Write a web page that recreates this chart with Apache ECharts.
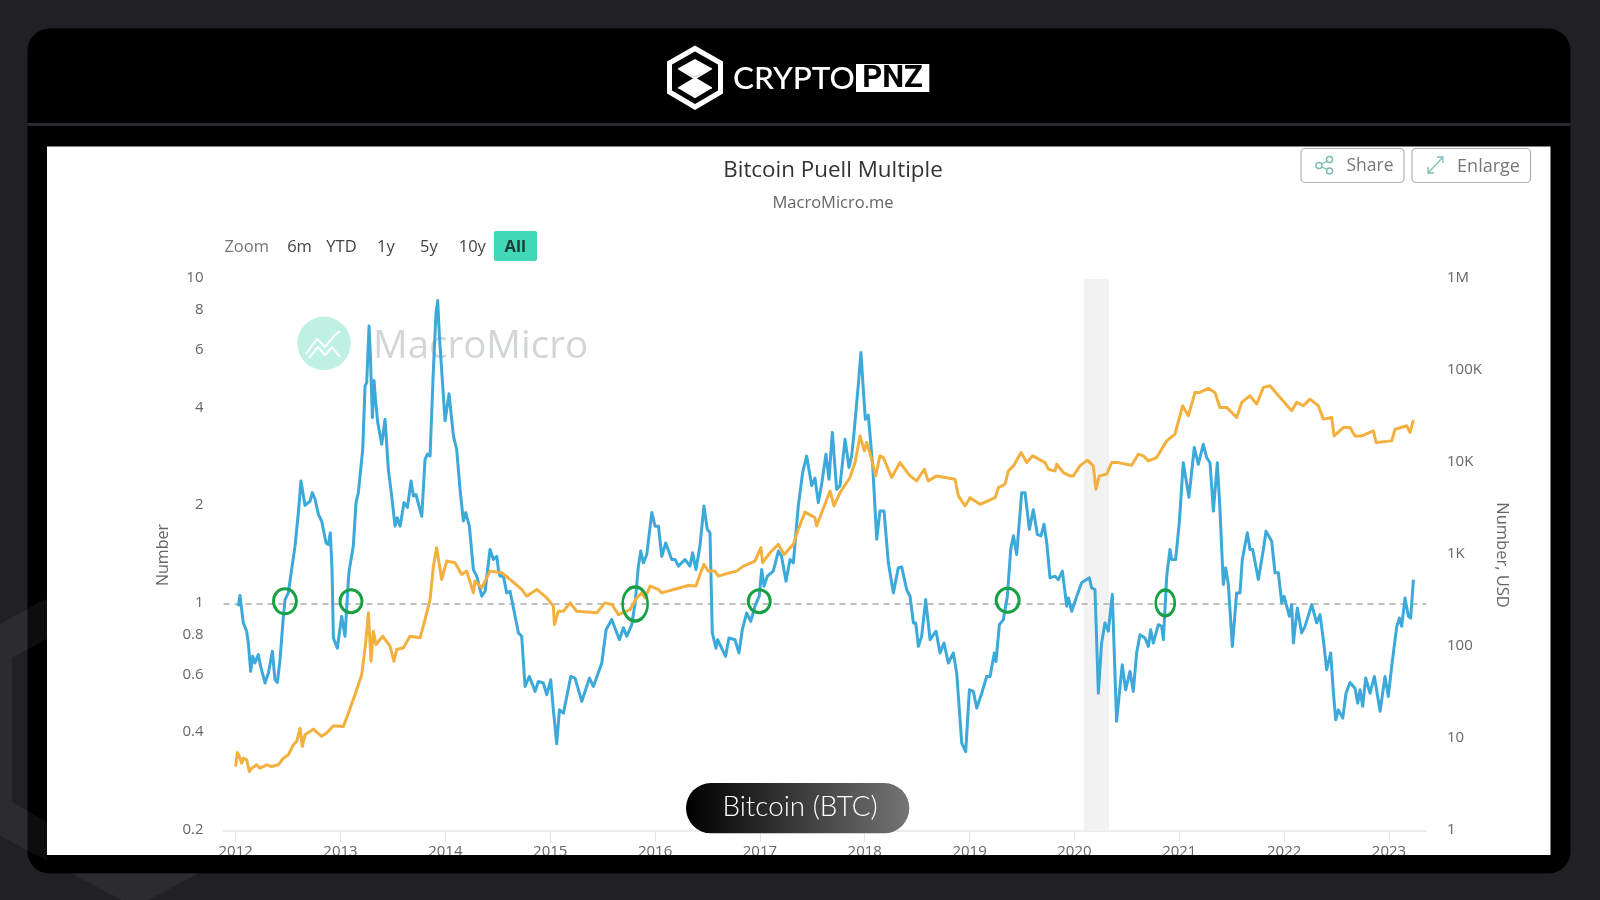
<!DOCTYPE html>
<html><head><meta charset="utf-8">
<style>html,body{margin:0;padding:0;background:#202025}#c{width:1600px;height:900px}</style>
<script src="https://cdn.jsdelivr.net/npm/echarts@6/dist/echarts.min.js"></script>
</head><body><div id="c"></div>
<script>
const puellYears=[2012.025,2012.041,2012.057,2012.073,2012.105,2012.121,2012.143,2012.162,2012.184,2012.216,2012.238,2012.28,2012.312,2012.35,2012.375,2012.398,2012.423,2012.455,2012.471,2012.502,2012.534,2012.566,2012.598,2012.623,2012.661,2012.709,2012.731,2012.757,2012.789,2012.82,2012.862,2012.884,2012.903,2012.919,2012.932,2012.97,2013.011,2013.043,2013.075,2013.084,2013.122,2013.148,2013.17,2013.212,2013.234,2013.25,2013.272,2013.285,2013.304,2013.32,2013.336,2013.355,2013.371,2013.393,2013.425,2013.456,2013.488,2013.52,2013.542,2013.568,2013.606,2013.638,2013.673,2013.695,2013.72,2013.775,2013.806,2013.829,2013.854,2013.886,2013.911,2013.927,2013.943,2013.997,2014.035,2014.077,2014.108,2014.14,2014.172,2014.194,2014.229,2014.267,2014.299,2014.347,2014.379,2014.426,2014.442,2014.458,2014.49,2014.506,2014.522,2014.554,2014.585,2014.617,2014.665,2014.697,2014.728,2014.76,2014.801,2014.856,2014.887,2014.935,2014.967,2015.005,2015.03,2015.062,2015.088,2015.126,2015.158,2015.196,2015.237,2015.301,2015.374,2015.412,2015.492,2015.533,2015.587,2015.66,2015.698,2015.73,2015.778,2015.81,2015.841,2015.864,2015.889,2015.921,2015.969,2016.0,2016.032,2016.064,2016.102,2016.159,2016.191,2016.223,2016.285,2016.333,2016.358,2016.39,2016.428,2016.466,2016.498,2016.524,2016.546,2016.581,2016.597,2016.635,2016.673,2016.705,2016.762,2016.8,2016.832,2016.874,2016.912,2016.953,2016.994,2017.017,2017.039,2017.071,2017.128,2017.176,2017.207,2017.249,2017.287,2017.319,2017.366,2017.408,2017.446,2017.494,2017.525,2017.557,2017.589,2017.63,2017.659,2017.691,2017.732,2017.764,2017.812,2017.85,2017.875,2017.898,2017.939,2017.964,2017.986,2018.006,2018.034,2018.076,2018.114,2018.145,2018.184,2018.225,2018.273,2018.32,2018.352,2018.4,2018.432,2018.464,2018.486,2018.511,2018.543,2018.581,2018.623,2018.68,2018.718,2018.756,2018.797,2018.845,2018.877,2018.925,2018.963,2018.998,2019.036,2019.068,2019.116,2019.163,2019.195,2019.236,2019.252,2019.284,2019.322,2019.36,2019.392,2019.418,2019.449,2019.497,2019.529,2019.57,2019.608,2019.646,2019.681,2019.71,2019.736,2019.767,2019.815,2019.847,2019.885,2019.926,2019.942,2019.974,2020.022,2020.069,2020.116,2020.142,2020.164,2020.196,2020.228,2020.259,2020.291,2020.323,2020.361,2020.402,2020.456,2020.488,2020.53,2020.561,2020.593,2020.625,2020.673,2020.705,2020.727,2020.752,2020.8,2020.832,2020.848,2020.88,2020.911,2020.927,2020.965,2021.0,2021.038,2021.092,2021.143,2021.181,2021.229,2021.261,2021.293,2021.325,2021.363,2021.388,2021.42,2021.442,2021.468,2021.506,2021.547,2021.579,2021.601,2021.649,2021.674,2021.7,2021.754,2021.802,2021.827,2021.881,2021.913,2021.945,2021.977,2021.999,2022.05,2022.072,2022.088,2022.126,2022.167,2022.199,2022.263,2022.31,2022.342,2022.374,2022.406,2022.444,2022.47,2022.492,2022.517,2022.559,2022.59,2022.628,2022.676,2022.702,2022.724,2022.749,2022.778,2022.819,2022.861,2022.915,2022.962,2022.994,2023.026,2023.074,2023.099,2023.121,2023.153,2023.185,2023.207,2023.233];
const puellValues=[0.984,1.061,0.961,0.874,0.824,0.758,0.62,0.69,0.658,0.698,0.643,0.571,0.613,0.715,0.584,0.573,0.674,0.916,1.031,1.081,1.276,1.506,1.908,2.39,2.01,2.07,2.2,2.1,1.886,1.8,1.54,1.524,1.656,1.276,0.785,0.731,0.916,0.795,1.188,1.276,1.506,2.05,2.2,2.99,4.69,4.8,7.17,5.8,3.74,4.87,4.17,3.62,3.66,3.1,3.7,2.6,2.15,1.735,1.84,1.735,2.05,1.98,2.39,2.15,2.17,1.86,2.78,2.89,2.85,5.28,7.88,8.58,6.69,3.66,4.43,3.29,2.99,2.25,1.8,1.91,1.735,1.276,1.217,1.056,1.094,1.47,1.47,1.37,1.4,1.276,1.217,1.217,1.081,1.094,0.916,0.814,0.795,0.557,0.598,0.538,0.577,0.571,0.525,0.584,0.472,0.371,0.472,0.461,0.519,0.598,0.591,0.501,0.591,0.557,0.658,0.833,0.895,0.776,0.844,0.795,0.863,1.007,1.307,1.454,1.338,1.419,1.91,1.735,1.735,1.4,1.54,1.37,1.37,1.307,1.37,1.307,1.436,1.276,1.506,2.0,1.696,1.656,0.814,0.731,0.776,0.731,0.69,0.785,0.776,0.706,0.833,0.938,0.884,0.984,1.056,1.276,1.134,1.217,1.261,1.454,1.4,1.175,1.37,1.338,2.0,2.54,2.85,2.31,2.44,2.05,2.34,2.89,2.42,3.37,2.25,2.31,3.21,2.63,2.85,3.37,4.75,5.94,4.58,3.7,3.81,2.66,1.58,1.93,1.93,1.338,1.081,1.291,1.3,1.107,1.056,0.874,0.874,0.74,0.795,1.031,0.776,0.824,0.706,0.758,0.658,0.706,0.613,0.373,0.351,0.544,0.538,0.478,0.531,0.598,0.598,0.706,0.665,0.863,0.895,1.056,1.47,1.62,1.42,2.2,2.2,1.696,1.95,1.637,1.62,1.76,1.54,1.203,1.217,1.188,1.261,0.984,1.043,0.949,1.056,1.161,1.188,1.203,1.12,1.107,0.531,0.758,0.874,0.824,1.069,0.435,0.65,0.544,0.62,0.538,0.706,0.804,0.785,0.74,0.833,0.758,0.863,0.853,0.776,1.217,1.47,1.37,1.37,1.78,2.72,2.13,3.03,2.69,3.1,2.82,2.72,1.93,2.72,1.95,1.147,1.291,1.147,0.74,1.081,1.081,1.37,1.656,1.47,1.47,1.188,1.47,1.675,1.56,1.246,1.246,1.007,1.056,0.916,0.995,0.758,0.972,0.814,0.853,0.995,0.874,0.927,0.776,0.627,0.706,0.531,0.44,0.472,0.445,0.531,0.573,0.55,0.495,0.544,0.484,0.591,0.531,0.598,0.467,0.598,0.519,0.643,0.853,0.905,0.853,1.043,0.916,0.905,1.188];
const priceYears=[2012.0,2012.016,2012.035,2012.057,2012.073,2012.105,2012.13,2012.153,2012.2,2012.232,2012.296,2012.343,2012.407,2012.455,2012.502,2012.55,2012.582,2012.614,2012.636,2012.661,2012.741,2012.82,2012.868,2012.932,2013.027,2013.075,2013.138,2013.202,2013.24,2013.266,2013.291,2013.313,2013.339,2013.402,2013.472,2013.51,2013.536,2013.6,2013.663,2013.759,2013.806,2013.854,2013.886,2013.917,2013.965,2014.013,2014.092,2014.156,2014.204,2014.267,2014.283,2014.347,2014.426,2014.538,2014.617,2014.728,2014.776,2014.872,2014.967,2015.03,2015.04,2015.078,2015.126,2015.19,2015.253,2015.444,2015.523,2015.587,2015.651,2015.762,2015.826,2015.873,2015.905,2015.953,2016.032,2016.064,2016.175,2016.318,2016.39,2016.428,2016.466,2016.508,2016.571,2016.603,2016.715,2016.778,2016.842,2016.953,2017.01,2017.026,2017.096,2017.176,2017.23,2017.319,2017.366,2017.43,2017.525,2017.541,2017.589,2017.669,2017.707,2017.764,2017.859,2017.907,2017.955,2017.996,2018.018,2018.066,2018.104,2018.145,2018.177,2018.257,2018.336,2018.432,2018.495,2018.568,2018.606,2018.686,2018.861,2018.893,2018.957,2019.004,2019.099,2019.243,2019.275,2019.338,2019.37,2019.418,2019.491,2019.545,2019.602,2019.72,2019.751,2019.815,2019.831,2019.895,2019.958,2019.989,2020.053,2020.123,2020.18,2020.205,2020.237,2020.307,2020.355,2020.418,2020.546,2020.609,2020.657,2020.705,2020.784,2020.88,2020.959,2021.032,2021.086,2021.15,2021.197,2021.277,2021.34,2021.388,2021.452,2021.5,2021.547,2021.595,2021.674,2021.738,2021.802,2021.865,2021.961,2022.072,2022.12,2022.183,2022.247,2022.326,2022.374,2022.454,2022.476,2022.565,2022.628,2022.676,2022.74,2022.851,2022.877,2023.026,2023.058,2023.169,2023.201,2023.233];
const priceValues=[5.02,7.13,6.45,5.46,6.19,5.93,4.43,4.82,5.24,4.82,5.24,5.02,5.24,6.19,6.73,8.65,9.4,13.1,8.3,11.1,12.8,10.7,11.6,13.9,13.7,19.1,30.3,50,111,235,70,148,106,131,102,70,94,98,131,126,199,328,757,1200,542,859,824,615,668,388,520,440,668,641,542,422,357,422,342,278,175,245,245,302,245,235,302,290,225,255,342,388,342,459,422,388,422,466,459,615,790,668,668,589,641,668,757,859,1200,824,1058,1304,1015,1304,1900,2935,2545,2065,2885,4970,3410,4765,6950,10100,19700,13550,16700,11000,7240,11960,11470,6950,10100,7240,6390,8560,6390,7240,6660,4385,3410,4200,3560,4200,5400,5875,8200,9300,13000,10100,11960,10100,8560,8200,9700,7870,7240,7240,9300,10730,9300,5180,7240,7550,10100,10100,9460,12470,11960,10550,11470,17400,20600,41900,32600,58500,58500,64700,58500,40200,40200,35500,31300,45600,53800,43700,66400,69200,51600,37000,45600,41900,49500,41900,30000,31300,19700,24300,24300,19700,19700,22400,16700,17400,23300,25400,21500,29200];
const circleYears=[2012.47,2013.10,2015.81,2016.994,2019.363,2020.866];
const circleValues=[1.019,1.019,1.0,1.019,1.026,1.007];
const circleSizes=[[23,25],[22,23],[25,34],[22,23],[23,24],[19,26]];
const yearTicks=[2012,2013,2014,2015,2016,2017,2018,2019,2020,2021,2022,2023];
const leftTicks=[0.2,0.4,0.6,0.8,1,2,4,6,8,10];
const rightLabels={1:'1',10:'10',100:'100',1000:'1K',10000:'10K',100000:'100K',1000000:'1M'};
const rangeButtons=[['Zoom',246.7,'#777'],['6m',299.5,'#444'],['YTD',341.5,'#444'],['1y',385.8,'#444'],['5y',428.8,'#444'],['10y',472.3,'#444']];
const recessionBand=[2020.09,2020.33];

const zip=(a,b)=>a.map((v,i)=>[v,b[i]]);
const font='"Open Sans"';
const hexRing=[[135,550],[300,640],[300,820],[135,907],[-30,820],[-30,640],[135,550],[135,590],[12,658],[12,802],[135,872],[258,802],[258,658],[135,590]];
const txt=(x,y,t,size,fill,extra)=>Object.assign({type:'text',x,y,style:Object.assign({text:t,font:`${(extra&&extra.w)||400} ${size}px ${font}`,fill,align:'center',verticalAlign:'middle'},extra&&extra.s)},extra&&extra.e);

const graphics=[
 {type:'rect',z:-20,shape:{x:27.5,y:28.5,width:1543,height:845,r:22},style:{fill:'#000'}},
 {type:'polygon',z:-19,shape:{points:hexRing},style:{fill:'rgba(255,255,255,0.05)'}},
 {type:'rect',z:-18,shape:{x:27.5,y:123,width:1543,height:3},style:{fill:'#2a2a2e'}},
 {type:'rect',z:-15,shape:{x:47,y:146.5,width:1503.5,height:708.5},style:{fill:'#fff'}},
 {type:'polygon',z:-14,shape:{points:[[695,48.5],[720.5,63],[720.5,92],[695,107],[669.5,92],[669.5,63]]},style:{fill:'none',stroke:'#fff',lineWidth:5}},
 {type:'polygon',z:-14,shape:{points:[[678.3,68.3],[695,59],[711.7,68.3],[695,77]]},style:{fill:'#fff'}},
 {type:'polygon',z:-14,shape:{points:[[678.3,88.3],[695,78.5],[711.7,88.3],[695,98.3]]},style:{fill:'#fff'}},
 {type:'polyline',z:-14,shape:{points:[[678.3,68.3],[711.7,88.3]]},style:{stroke:'#fff',lineWidth:2,fill:'none'}},
 {type:'polyline',z:-14,shape:{points:[[711.7,68.3],[678.3,88.3]]},style:{stroke:'#fff',lineWidth:2,fill:'none'}},
 {type:'text',z:-14,x:733,y:78.5,style:{text:'CRYPTO',font:'500 31.5px Lato',fill:'#fff',align:'left',verticalAlign:'middle'}},
 {type:'rect',z:-14,shape:{x:856,y:64,width:73.3,height:28},style:{fill:'#fff'}},
 {type:'text',z:-14,x:892.6,y:79,style:{text:'PNZ',font:'700 31px Roboto',fill:'#000',align:'center',verticalAlign:'middle'}},
 txt(833,170.5,'Bitcoin Puell Multiple',22.4,'#333',{e:{z:-13}}),
 txt(833,203,'MacroMicro.me',16.5,'#666',{e:{z:-13}}),
 {type:'rect',z:-13,shape:{x:1301,y:148.5,width:103,height:34,r:4},style:{fill:'#fff',stroke:'#aeb2b5',lineWidth:1.2}},
 {type:'rect',z:-13,shape:{x:1412,y:148.5,width:118.5,height:34,r:4},style:{fill:'#fff',stroke:'#aeb2b5',lineWidth:1.2}},
 txt(1370,166.5,'Share',17.5,'#777',{e:{z:-12}}),
 txt(1488.5,166.5,'Enlarge',18,'#777',{e:{z:-12}}),
 {type:'circle',z:-12,shape:{cx:1319,cy:165.5,r:3},style:{fill:'none',stroke:'#7fbcb5',lineWidth:1.5}},
 {type:'circle',z:-12,shape:{cx:1329.5,cy:159.5,r:3},style:{fill:'none',stroke:'#7fbcb5',lineWidth:1.5}},
 {type:'circle',z:-12,shape:{cx:1329.5,cy:171,r:3},style:{fill:'none',stroke:'#7fbcb5',lineWidth:1.5}},
 {type:'polyline',z:-12,shape:{points:[[1327,161],[1322,164]]},style:{stroke:'#7fbcb5',lineWidth:1.3,fill:'none'}},
 {type:'polyline',z:-12,shape:{points:[[1327,169.5],[1322,167]]},style:{stroke:'#7fbcb5',lineWidth:1.3,fill:'none'}},
 {type:'polyline',z:-12,shape:{points:[[1428,173],[1443,157]]},style:{stroke:'#7fbcb5',lineWidth:1.3,fill:'none'}},
 {type:'polyline',z:-12,shape:{points:[[1437,157],[1443,157],[1443,163]]},style:{stroke:'#7fbcb5',lineWidth:1.3,fill:'none'}},
 {type:'polyline',z:-12,shape:{points:[[1428,167],[1428,173],[1434,173]]},style:{stroke:'#7fbcb5',lineWidth:1.3,fill:'none'}},
 ...rangeButtons.map(b=>txt(b[1],247.5,b[0],16.5,b[2],{e:{z:-13}})),
 {type:'rect',z:-13,shape:{x:494,y:231,width:43,height:30,r:2},style:{fill:'#40d8b6'}},
 txt(515.3,247,'All',16.5,'#1f3a35',{w:700,e:{z:-12}}),
 {type:'circle',z:-13,shape:{cx:324,cy:343.3,r:26.7},style:{fill:'#bff0e4'}},
 {type:'polyline',z:-12,shape:{points:[[306,354],[317,339],[325,347],[335,335],[340,331]]},style:{stroke:'#fff',lineWidth:2,fill:'none'}},
 {type:'polyline',z:-12,shape:{points:[[309,358],[318,347],[325,355],[332,347],[340,357]]},style:{stroke:'#fff',lineWidth:2,fill:'none'}},
 {type:'text',z:-13,x:373,y:347,style:{text:'MacroMicro',font:`400 38.5px ${font}`,fill:'#d3d6d8',align:'left',verticalAlign:'middle'}},
 {type:'rect',z:50,shape:{x:47,y:855,width:1503.5,height:18},style:{fill:'#000'}},
 {type:'rect',z:60,shape:{x:686,y:783,width:223.3,height:50.3,r:25},style:{fill:{type:'linear',x:0,y:0,x2:1,y2:0,colorStops:[{offset:0,color:'#000'},{offset:1,color:'#757575'}]}}},
 {type:'text',z:61,x:800,y:807.5,style:{text:'Bitcoin (BTC)',font:'300 27.8px Lato',fill:'#fff',align:'center',verticalAlign:'middle'}}
];

const chart=echarts.init(document.getElementById('c'),null,{renderer:'canvas'});
chart.setOption({
 animation:false,
 backgroundColor:'#202025',
 textStyle:{fontFamily:font},
 graphic:{elements:graphics},
 grid:{left:223.5,right:174,top:279,bottom:69},
 xAxis:{type:'value',min:2011.884,max:2023.353,splitLine:{show:false},
  axisLine:{lineStyle:{color:'#e3e6ea',width:1.5}},
  axisTick:{show:true,customValues:yearTicks,length:11,lineStyle:{color:'#e3e6ea'}},
  axisLabel:{customValues:yearTicks,formatter:v=>String(Math.round(v)),color:'#666',fontSize:15,margin:13,fontFamily:font,hideOverlap:false,showMinLabel:true,showMaxLabel:true}},
 yAxis:[
  {type:'log',logBase:10,min:0.2,max:10,position:'left',splitLine:{show:false},axisLine:{show:false},axisTick:{show:false},
   axisLabel:{customValues:leftTicks,color:'#666',fontSize:15,margin:20,fontFamily:font,verticalAlign:'bottom',lineHeight:2,formatter:v=>String(v),showMinLabel:true,showMaxLabel:true},
   name:'Number',nameLocation:'middle',nameRotate:90,nameGap:51,nameTextStyle:{color:'#666',fontSize:16,fontFamily:font}},
  {type:'log',logBase:10,min:1,max:1000000,position:'right',splitLine:{show:false},axisLine:{show:false},axisTick:{show:false},
   axisLabel:{color:'#666',fontSize:15,margin:21,fontFamily:font,verticalAlign:'bottom',lineHeight:2,formatter:v=>rightLabels[Math.round(v)]||''},
   name:'Number, USD',nameLocation:'middle',nameRotate:-90,nameGap:66,nameTextStyle:{color:'#666',fontSize:16.5,fontFamily:font}}
 ],
 series:[
  {name:'Puell Multiple',type:'line',yAxisIndex:0,data:zip(puellYears,puellValues),showSymbol:false,symbol:'none',z:3,
   lineStyle:{color:'#3ba9d9',width:3,join:'round'},
   markArea:{silent:true,z:1,itemStyle:{color:'#f2f2f3'},data:[[{xAxis:recessionBand[0]},{xAxis:recessionBand[1]}]]},
   markLine:{silent:true,symbol:'none',z:2,label:{show:false},lineStyle:{color:'#aaa',type:[6,5],width:1.5},data:[{yAxis:1}]}},
  {name:'Bitcoin Price',type:'line',yAxisIndex:1,data:zip(priceYears,priceValues),showSymbol:false,symbol:'none',z:4,
   lineStyle:{color:'#f4b03e',width:3,join:'round'}},
  {name:'Crossings',type:'scatter',yAxisIndex:0,z:5,silent:true,
   data:circleYears.map((y,i)=>({value:[y,circleValues[i]],symbolSize:circleSizes[i]})),
   symbol:'circle',itemStyle:{color:'rgba(0,0,0,0)',borderColor:'#17a044',borderWidth:3,opacity:1}}
 ]
});
</script></body></html>
